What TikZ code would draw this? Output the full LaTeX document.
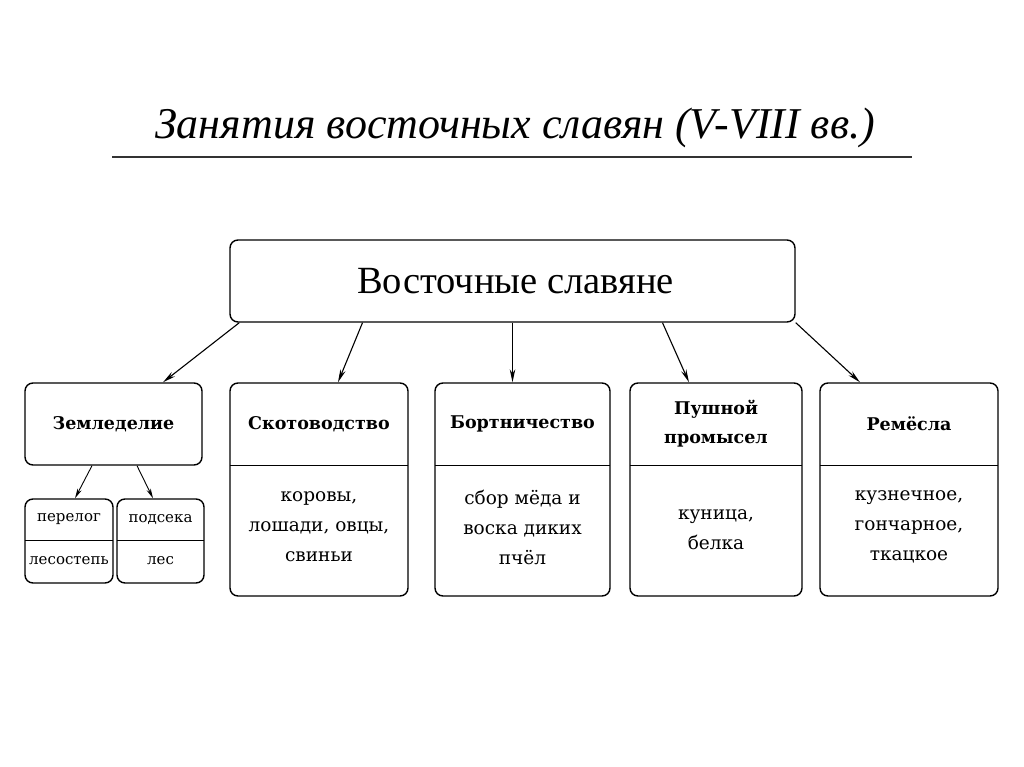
\documentclass[tikz,border=0pt]{standalone}
\usepackage{fontspec}
\setmainfont{Liberation Serif}
\newfontfamily\cardfont{DejaVu Serif}
\usetikzlibrary{arrows.meta,calc}

\tikzset{
  box/.style = {draw, line width=1.4pt, rounded corners=8pt, inner sep=0pt},
  head/.style = {inner sep=0pt, align=center, font=\cardfont\fontsize{17.5}{29}\selectfont\bfseries},
  body/.style = {inner sep=0pt, align=center, font=\cardfont\fontsize{18.5}{30}\selectfont},
  small/.style = {inner sep=0pt, font=\cardfont\fontsize{15}{17}\selectfont},
  arr/.style = {line width=1.1pt, -{Stealth[length=13pt,width=5.5pt]}}
}

\begin{document}
\begin{tikzpicture}[x=1pt, y=-1pt]
  \useasboundingbox (0,0) rectangle (1024,767);

  % title
  \node[font=\fontsize{44}{50}\selectfont\itshape] (title) at (515,128) {Занятия восточных славян (V-VIII вв.)};
  \draw[line width=1.3pt, black!80] (112,157) -- (912,157);

  % top box
  \node[box, minimum width=565, minimum height=82, font=\fontsize{38.5}{44}\selectfont] (main) at (512.5,281) {\hspace{6pt}Восточные славяне};

  % cards
  \node[box, minimum width=177, minimum height=82, head] (zem) at (113.5,424) {Земледелие};

  \node[box, minimum width=178, minimum height=213] (skot) at (319,489.5) {};
  \node[head, minimum width=178, minimum height=82] (skoth) at (319,424) {Скотоводство};
  \node[body] (skotb) at (319,527) {коровы,\\лошади, овцы,\\свиньи};

  \node[box, minimum width=175, minimum height=213] (bort) at (522.5,489.5) {};
  \node[head, minimum width=175, minimum height=82] (borth) at (522.5,424) {\raisebox{-3pt}{Бортничество}};
  \node[body] (bortb) at (522.5,527) {сбор мёда и\\воска диких\\пчёл};

  \node[box, minimum width=172, minimum height=213] (push) at (716,489.5) {};
  \node[head, minimum width=172, minimum height=82] (pushh) at (716,424) {Пушной\\промысел};
  \node[body] (pushb) at (716,530) {куница,\\белка};

  \node[box, minimum width=178, minimum height=213] (rem) at (909,489.5) {};
  \node[head, minimum width=178, minimum height=82] (remh) at (909,424) {Ремёсла};
  \node[body] (remb) at (909,527) {кузнечное,\\гончарное,\\ткацкое};

  \foreach \n in {skoth, borth, pushh, remh}
    \draw[line width=1.4pt] (\n.south west) -- (\n.south east);

  % small boxes
  \node[box, minimum width=88, minimum height=84] (perelog) at (69,541) {};
  \node[small, minimum width=88, minimum height=41] (perelogh) at (69,519.5) {перелог};
  \node[small] (perelogb) at (69,561) {лесостепь};
  \node[box, minimum width=87, minimum height=84] (podseka) at (160.5,541) {};
  \node[small, minimum width=87, minimum height=41] (podsekah) at (160.5,519.5) {подсека};
  \node[small] (podsekab) at (160.5,561) {лес};
  \draw[line width=1.2pt] (perelogh.south west) -- (perelogh.south east);
  \draw[line width=1.2pt] (podsekah.south west) -- (podsekah.south east);

  % arrows
  \draw[arr] ([xshift=10]main.south west) -- ([xshift=49.5]zem.north);
  \draw[arr] ([xshift=-150]main.south) -- ([xshift=19]skot.north);
  \draw[arr] (main.south) -- ([xshift=-10]bort.north);
  \draw[arr] ([xshift=150]main.south) -- ([xshift=-27]push.north);
  \draw[arr] (main.south east) -- ([xshift=-49]rem.north);
  \draw[arr, line width=0.9pt, -{Stealth[length=10pt,width=4.5pt]}] ([xshift=-21.5]zem.south) -- ([xshift=6]perelog.north);
  \draw[arr, line width=0.9pt, -{Stealth[length=10pt,width=4.5pt]}] ([xshift=23.5]zem.south) -- ([xshift=-7.5]podseka.north);
\end{tikzpicture}
\end{document}
